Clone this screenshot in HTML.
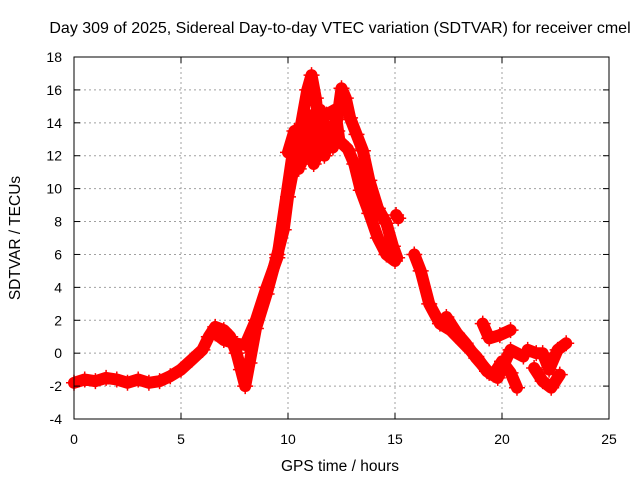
<!DOCTYPE html>
<html><head><meta charset="utf-8"><style>
body{margin:0;background:#fff}
svg{display:block;font-family:"Liberation Sans",Arial,sans-serif}
</style></head><body>
<svg id="c" width="640" height="480">
<text x="340" y="33" text-anchor="middle" font-size="16">Day 309 of 2025, Sidereal Day-to-day VTEC variation (SDTVAR) for receiver cmel</text>
<text x="340" y="471" text-anchor="middle" font-size="15.5">GPS time / hours</text>
<text transform="translate(20,238) rotate(-90)" text-anchor="middle" font-size="15.5">SDTVAR / TECUs</text>
<g id="grid"></g><g id="marks"></g><g id="axes"></g>
</svg>
<script>
const xTicks=[0,5,10,15,20,25];
const yTicks=[-4,-2,0,2,4,6,8,10,12,14,16,18];
const trackAHours=[0,0.5,1,1.5,2,2.5,3,3.5,4,4.5,5,5.5,6,6.3,6.6,7,7.3,7.6,7.8,8,8.2,8.5,9,9.5,9.8,10,10.3,10.6,10.9,11.1,11.3,11.5,11.7,12,12.3,12.5,12.7,12.9,13.2,13.5,13.8,14.2,14.6,14.9,15.1];
const trackAValues=[-1.8,-1.6,-1.7,-1.5,-1.6,-1.8,-1.6,-1.8,-1.7,-1.4,-1.0,-0.4,0.2,1.0,1.6,1.4,1.0,0.0,-1.0,-2.0,-0.6,1.5,3.6,6.0,7.5,9.5,11.5,13.8,16.0,16.9,15.5,13.0,12.0,13.5,14.2,16.1,15.5,14.3,13.3,12.3,10.5,8.8,7.9,6.5,5.8];
const trackBHours=[6.6,7.0,7.5,8.0,8.5,9.0,9.5,10.2,10.5,10.8,11.2,11.5,11.8,12.2,12.4,12.8,13.1,13.4,13.8,14.2,14.6,15.0];
const trackBValues=[1.2,0.8,0.6,0.5,2.0,4.0,5.8,12.0,11.2,13.5,12.0,14.0,14.5,14.8,12.9,12.4,11.5,9.9,8.5,7.0,6.0,5.6];
const trackIHours=[10.0,10.3,10.6,10.9,11.2,11.5,11.8,12.1];
const trackIValues=[12.2,13.5,12.0,14.5,11.5,12.5,13.5,12.5];
const trackJHours=[10.6,10.9,11.2,11.5,11.9,12.3];
const trackJValues=[11.5,12.8,14.5,14.8,13.0,13.5];
const trackCHours=[15.9,16.2,16.6,17.1,17.6,18.2,18.8,19.3,19.6,20.0,20.4,20.7];
const trackCValues=[6.0,5.0,3.0,1.8,1.4,0.6,-0.2,-1.1,-1.3,-0.5,-1.2,-2.1];
const trackDHours=[17.4,17.9,18.3,18.8,19.4,19.8,20.4,21.0];
const trackDValues=[2.2,1.2,0.6,-0.3,-1.2,-1.5,0.2,-0.2];
const trackEHours=[19.1,19.4,19.9,20.4];
const trackEValues=[1.8,0.9,1.1,1.4];
const trackFHours=[21.2,21.6,21.9,22.2,22.6,23.0];
const trackFValues=[0.2,0.0,0.0,-1.0,0.2,0.6];
const trackGHours=[21.5,21.9,22.3,22.7];
const trackGValues=[-0.9,-1.7,-2.1,-1.3];
const trackHHours=[15.05,15.15];
const trackHValues=[8.4,8.2];
const X0=74,X1=609,Y0=419,Y1=57;
const sx=h=>X0+(h-0)/25*(X1-X0);
const sy=v=>Y0-(v+4)/22*(Y0-Y1);
const NS="http://www.w3.org/2000/svg";
const grid=document.getElementById('grid'),marks=document.getElementById('marks'),axes=document.getElementById('axes');
function mk(t,a,p){const e=document.createElementNS(NS,t);for(const k in a)e.setAttribute(k,a[k]);p.appendChild(e);return e;}
xTicks.forEach(t=>{const x=sx(t);
 if(t>0&&t<25){const g=mk('line',{x1:x,x2:x,y1:Y1,y2:Y0,stroke:'#a0a0a0','stroke-dasharray':'2,3'},grid);
 
 }
 const l=mk('text',{x:x,y:Y0+25,'text-anchor':'middle','font-size':'14'},axes);l.textContent=t;
 
 
 mk('line',{x1:x,x2:x,y1:Y0,y2:Y0-6,stroke:'#000'},axes);mk('line',{x1:x,x2:x,y1:Y1,y2:Y1+6,stroke:'#000'},axes);});
yTicks.forEach(t=>{const y=sy(t);
 if(t>-4&&t<18){const g=mk('line',{x1:X0,x2:X1,y1:y,y2:y,stroke:'#a0a0a0','stroke-dasharray':'2,3'},grid);
 
 }
 const l=mk('text',{x:X0-12,y:y+5,'text-anchor':'end','font-size':'14'},axes);l.textContent=t;
 
 
 mk('line',{x1:X0,x2:X0+6,y1:y,y2:y,stroke:'#000'},axes);mk('line',{x1:X1,x2:X1-6,y1:y,y2:y,stroke:'#000'},axes);});
const fr=mk('rect',{x:X0,y:Y1,width:X1-X0,height:Y0-Y1,fill:'none',stroke:'#000'},axes);


const tracks=[[trackAHours,trackAValues],[trackBHours,trackBValues],[trackIHours,trackIValues],[trackJHours,trackJValues],[trackCHours,trackCValues],[trackDHours,trackDValues],[trackEHours,trackEValues],[trackFHours,trackFValues],[trackGHours,trackGValues],[trackHHours,trackHValues]];
tracks.forEach(([hs,vs],ti)=>{
 const pts=hs.map((h,i)=>sx(h).toFixed(1)+','+sy(vs[i]).toFixed(1)).join(' ');
 const pl=mk('polyline',{points:pts,fill:'none',stroke:'#ff0000','stroke-width':'12','stroke-linejoin':'round','stroke-linecap':'round'},marks);
 
 
 hs.forEach((h,i)=>{const x=sx(h),y=sy(vs[i]);
  const p=mk('path',{d:`M${x-8},${y}H${x+8}M${x},${y-8}V${y+8}`,stroke:'#ff0000','stroke-width':'1.5'},marks);
  
  });
});
</script>
</body></html>
